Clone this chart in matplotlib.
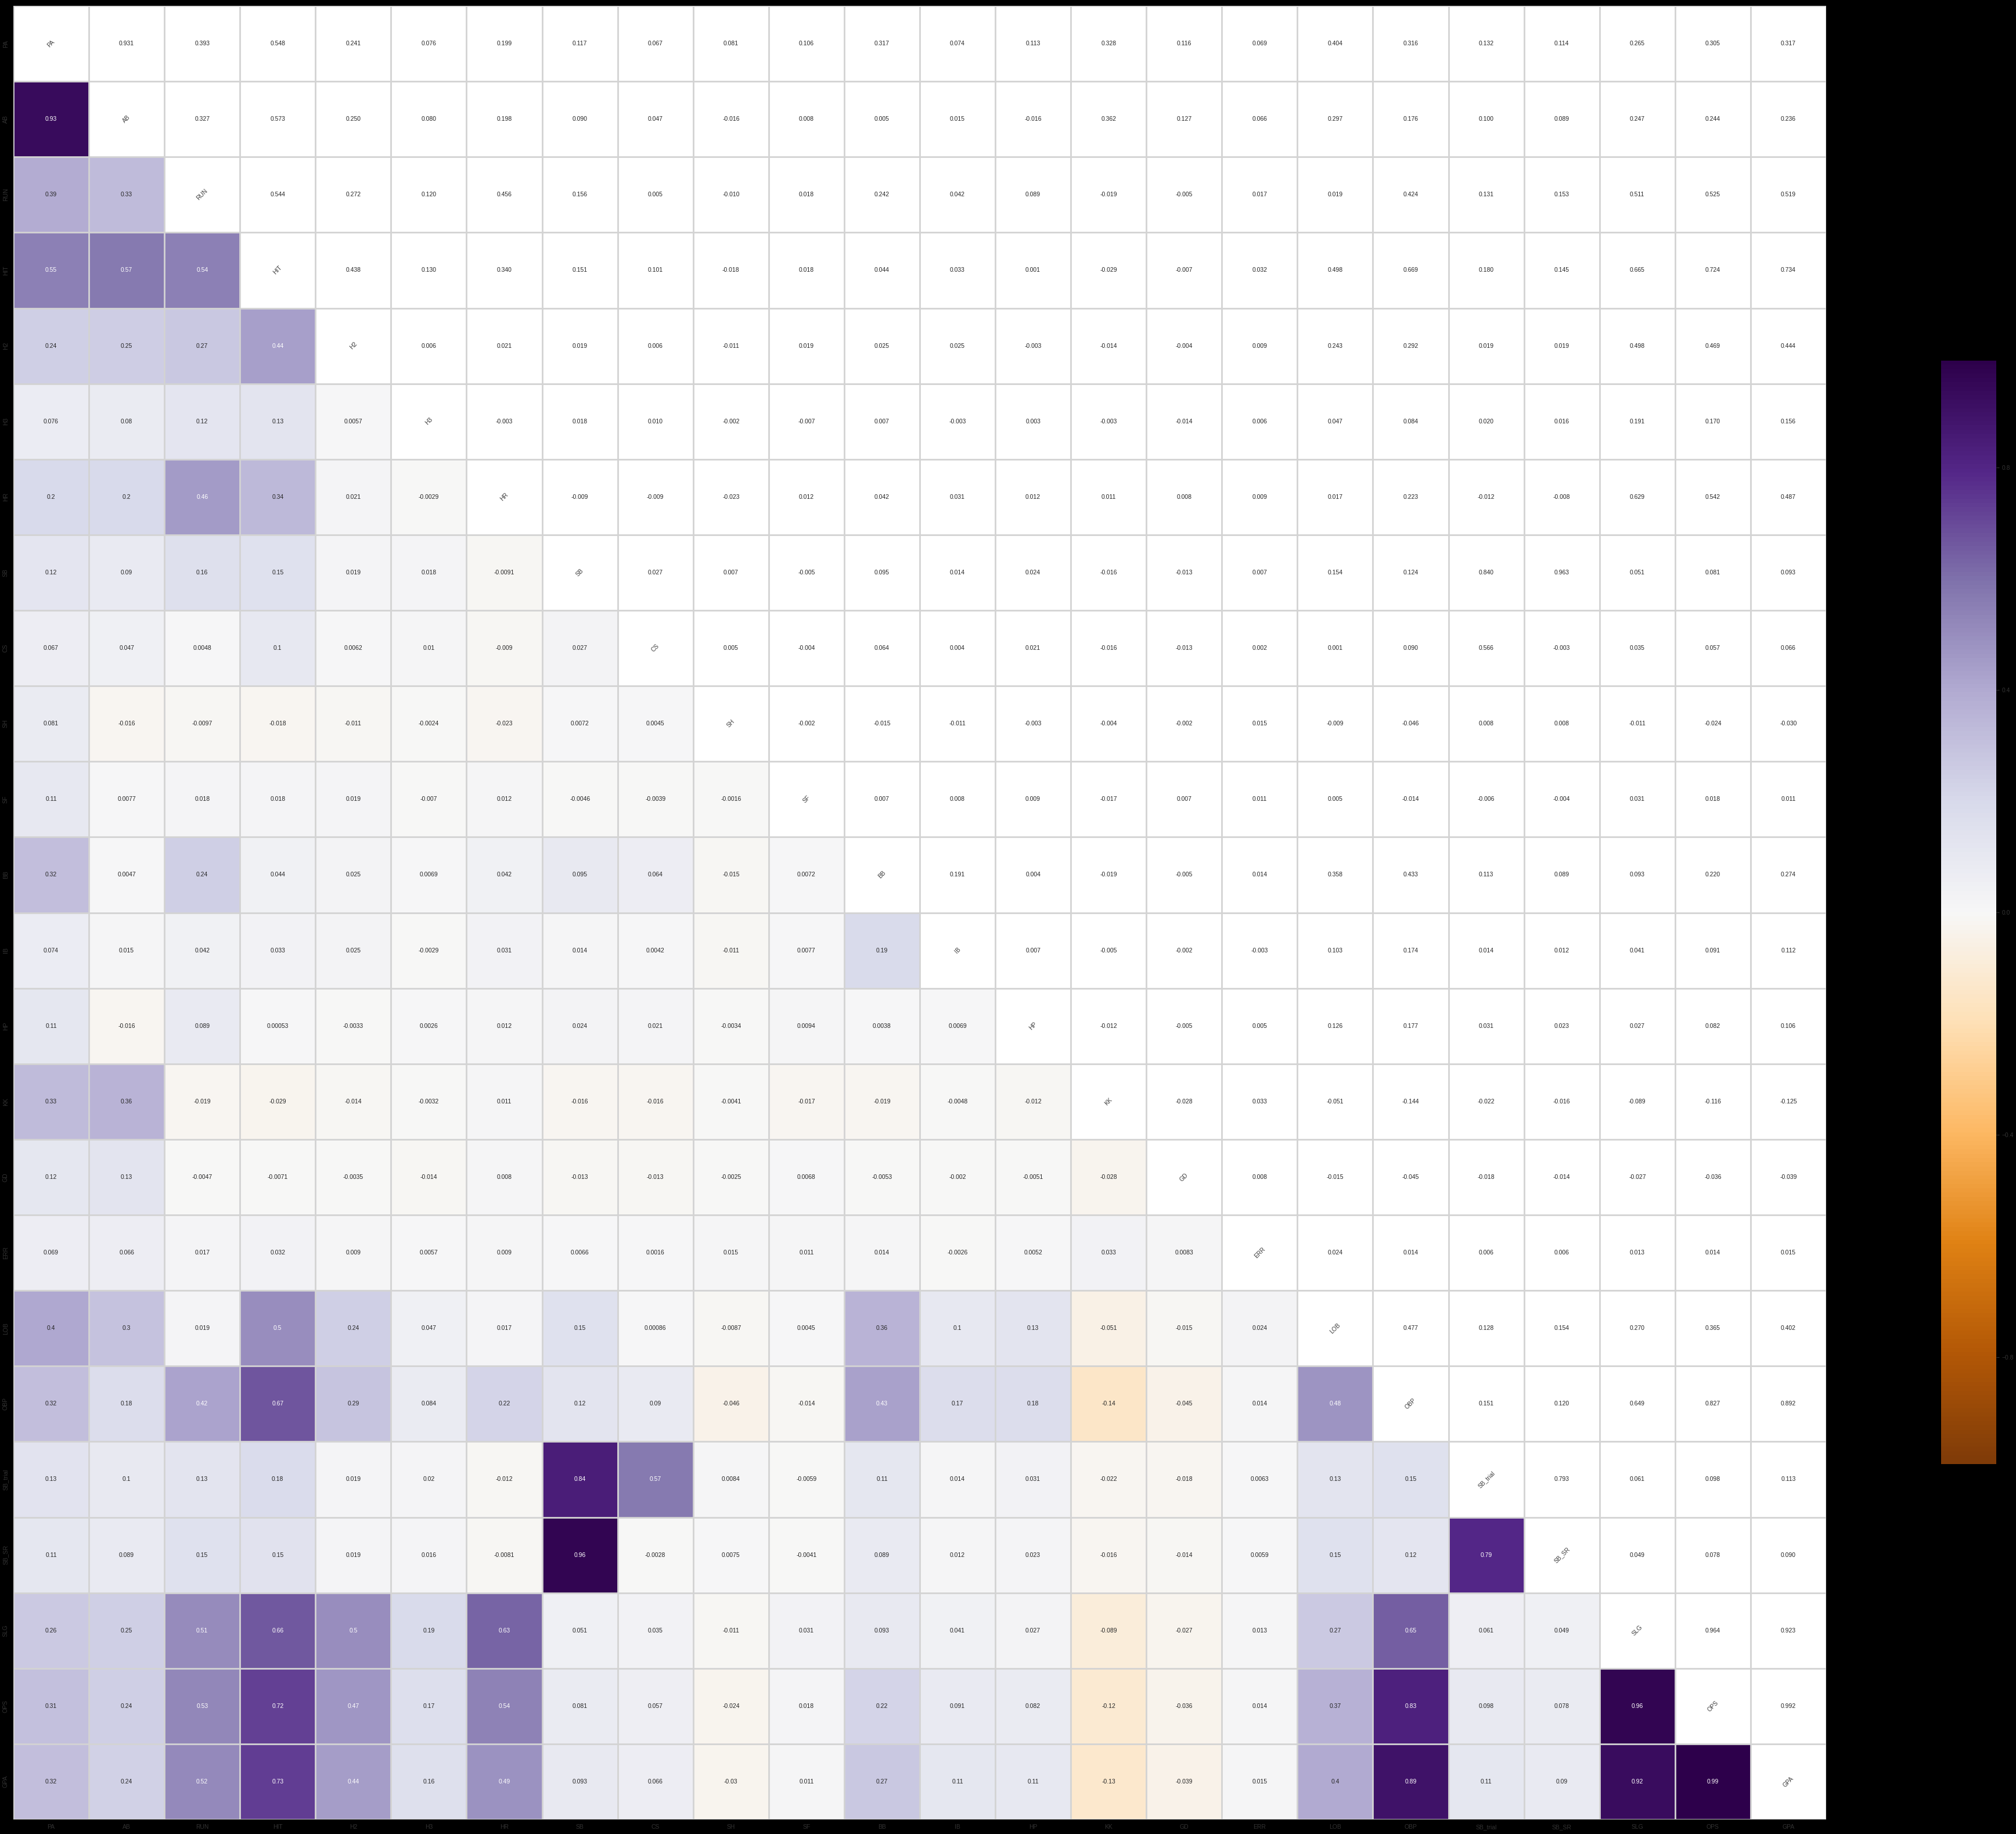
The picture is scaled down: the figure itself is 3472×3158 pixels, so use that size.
import numpy as np
import matplotlib
matplotlib.use('Agg')
import matplotlib.pyplot as plt
import matplotlib.colors as mcolors

plt.rcParams['font.family'] = ['Liberation Sans', 'DejaVu Sans']

# variable names, in matrix order
labels = ['PA', 'AB', 'RUN', 'HIT', 'H2', 'H3', 'HR', 'SB', 'CS', 'SH', 'SF', 'BB',
          'IB', 'HP', 'KK', 'GD', 'ERR', 'LOB', 'OBP', 'SB_trial', 'SB_SR', 'SLG', 'OPS', 'GPA']

# lower triangle of the correlation matrix, one list per row (columns PA .. previous row)
r_ab = [0.931]
r_run = [0.393, 0.327]
r_hit = [0.548, 0.573, 0.544]
r_h2 = [0.241, 0.250, 0.272, 0.438]
r_h3 = [0.076, 0.080, 0.120, 0.130, 0.0057]
r_hr = [0.199, 0.198, 0.456, 0.340, 0.021, -0.0029]
r_sb = [0.117, 0.090, 0.156, 0.151, 0.019, 0.018, -0.0091]
r_cs = [0.067, 0.047, 0.0048, 0.101, 0.0062, 0.010, -0.0090, 0.027]
r_sh = [0.081, -0.016, -0.0097, -0.018, -0.011, -0.0024, -0.023, 0.0072, 0.00451]
r_sf = [0.106, 0.0077, 0.018, 0.018, 0.019, -0.0070, 0.012, -0.0046, -0.0039, -0.0016]
r_bb = [0.317, 0.0047, 0.242, 0.044, 0.025, 0.0069, 0.042, 0.095, 0.064, -0.015, 0.0072]
r_ib = [0.074, 0.015, 0.042, 0.033, 0.025, -0.0029, 0.031, 0.014, 0.0042, -0.011, 0.0077, 0.191]
r_hp = [0.113, -0.016, 0.089, 0.00053, -0.0033, 0.0026, 0.012, 0.024, 0.021, -0.0034, 0.0094,
        0.0038, 0.0069]
r_kk = [0.328, 0.362, -0.019, -0.029, -0.014, -0.0032, 0.011, -0.016, -0.016, -0.0041, -0.017,
        -0.019, -0.0048, -0.012]
r_gd = [0.116, 0.127, -0.0047, -0.0071, -0.00351, -0.014, 0.0080, -0.013, -0.013, -0.00249, 0.0068,
        -0.0053, -0.0020, -0.0051, -0.028]
r_err = [0.069, 0.066, 0.017, 0.032, 0.0090, 0.0057, 0.0090, 0.0066, 0.0016, 0.015, 0.011, 0.014,
         -0.0026, 0.0052, 0.033, 0.0083]
r_lob = [0.404, 0.297, 0.019, 0.498, 0.243, 0.047, 0.017, 0.154, 0.00086, -0.0087, 0.00451, 0.358,
         0.103, 0.126, -0.051, -0.015, 0.024]
r_obp = [0.316, 0.176, 0.424, 0.669, 0.292, 0.084, 0.223, 0.124, 0.090, -0.046, -0.014, 0.433,
         0.174, 0.177, -0.144, -0.045, 0.014, 0.477]
r_sb_trial = [0.132, 0.100, 0.131, 0.180, 0.019, 0.020, -0.012, 0.840, 0.566, 0.0084, -0.0059, 0.113,
              0.014, 0.031, -0.022, -0.018, 0.0063, 0.128, 0.151]
r_sb_sr = [0.114, 0.089, 0.153, 0.1452, 0.019, 0.016, -0.0081, 0.963, -0.0028, 0.00751, -0.0041, 0.089,
           0.012, 0.023, -0.016, -0.014, 0.0059, 0.154, 0.120, 0.793]
r_slg = [0.2648, 0.247, 0.511, 0.6648, 0.498, 0.191, 0.629, 0.051, 0.035, -0.011, 0.031, 0.093,
         0.041, 0.027, -0.089, -0.027, 0.013, 0.270, 0.649, 0.061, 0.049]
r_ops = [0.3052, 0.244, 0.5252, 0.724, 0.469, 0.170, 0.542, 0.081, 0.057, -0.024, 0.018, 0.220,
         0.091, 0.082, -0.116, -0.036, 0.014, 0.3652, 0.827, 0.098, 0.078, 0.964]
r_gpa = [0.317, 0.236, 0.519, 0.734, 0.444, 0.156, 0.487, 0.093, 0.066, -0.030, 0.011, 0.274,
         0.112, 0.106, -0.1252, -0.039, 0.015, 0.402, 0.892, 0.113, 0.090, 0.923, 0.992]

lower_rows = [[], r_ab, r_run, r_hit, r_h2, r_h3, r_hr, r_sb, r_cs, r_sh, r_sf, r_bb, r_ib,
              r_hp, r_kk, r_gd, r_err, r_lob, r_obp, r_sb_trial, r_sb_sr, r_slg, r_ops, r_gpa]

# build symmetric matrix
n = len(labels)
corr = np.eye(n)
for i, row in enumerate(lower_rows):
    for j, v in enumerate(row):
        corr[i, j] = v
        corr[j, i] = v

vmax = np.abs(corr[np.tril_indices(n, -1)]).max()
vmin = -vmax
cmap = plt.get_cmap('PuOr')
norm = mcolors.Normalize(vmin, vmax)


def text_color(value):
    # same rule seaborn uses for annotation colour
    rgb = np.array(cmap(norm(value))[:3])
    rgb = np.where(rgb <= .03928, rgb / 12.92, ((rgb + .055) / 1.055) ** 2.4)
    lum = rgb.dot([.2126, .7152, .0722])
    return '#262626' if lum > .408 else 'white'


W, H = 3472, 3158
fig = plt.figure(figsize=(W / 100, H / 100), dpi=100, facecolor='black')
ax = fig.add_axes([23 / W, 1 - 3133 / H, 3122 / W, 3123 / H])
cax = fig.add_axes([3343 / W, 1 - 2521 / H, 95 / W, 1900 / H])

mask = np.triu(np.ones((n, n), dtype=bool))
data = np.ma.masked_array(corr, mask)
ax.set_facecolor('white')
mesh = ax.pcolormesh(data, cmap=cmap, norm=norm)
ax.set_xlim(0, n)
ax.set_ylim(n, 0)

# cell borders
ax.hlines(np.arange(n + 1), 0, n, color='lightgray', lw=2)
ax.vlines(np.arange(n + 1), 0, n, color='lightgray', lw=2)
for s in ax.spines.values():
    s.set_visible(False)

# annotations: lower = 2 sig. digits, upper = 3 decimals, diagonal = name
fs = 7.5
for i in range(n):
    for j in range(n):
        if i > j:
            ax.text(j + 0.5, i + 0.5, format(corr[i, j], '.2g'), ha='center', va='center',
                    fontsize=fs, color=text_color(corr[i, j]))
        elif i < j:
            ax.text(j + 0.5, i + 0.5, format(corr[i, j], '.3f'), ha='center', va='center',
                    fontsize=fs, color='#262626')
        else:
            ax.text(j + 0.5, i + 0.5, labels[i], ha='center', va='center', rotation=45,
                    fontsize=fs, color='#404040')

ax.set_xticks(np.arange(n) + 0.5)
ax.set_xticklabels(labels)
ax.set_yticks(np.arange(n) + 0.5)
ax.set_yticklabels(labels, rotation=90, va='center')
ax.tick_params(length=0, labelsize=7.5, labelcolor='#333333', pad=6)

cb = fig.colorbar(mesh, cax=cax)
cb.outline.set_visible(False)
cb.set_ticks([-0.8, -0.4, 0.0, 0.4, 0.8])
cb.ax.tick_params(labelsize=7.5, labelcolor='#333333', color='#333333', length=3.5)

fig.savefig('out.png', dpi=100, facecolor='black')
